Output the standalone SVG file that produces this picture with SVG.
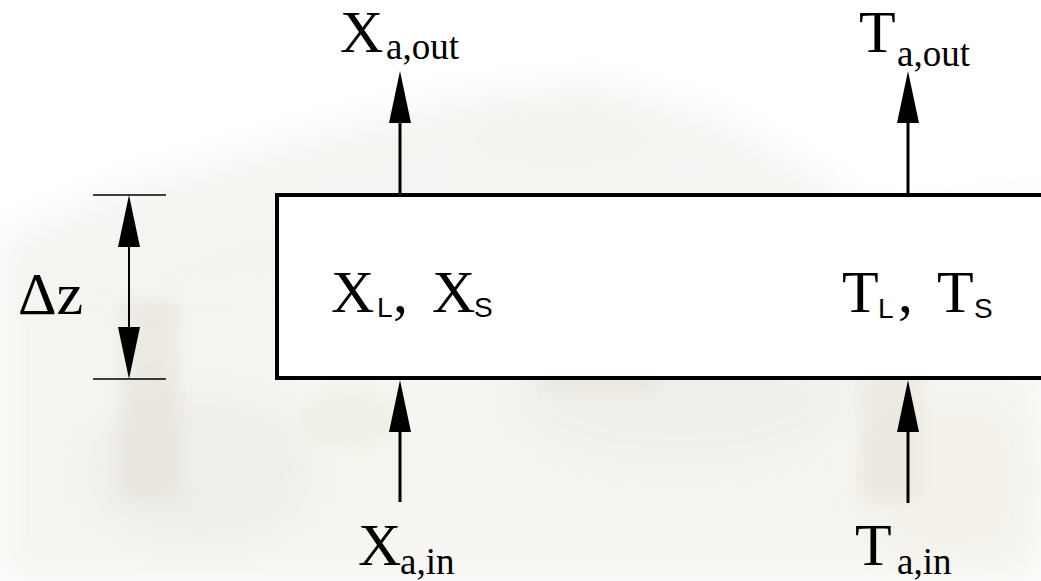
<svg xmlns="http://www.w3.org/2000/svg" width="1041" height="581" viewBox="0 0 1041 581">
  <style>
    .main { font-family: "Liberation Serif", "Times New Roman", serif; font-size: 60px; fill: #000; }
    .sub { font-size: 37px; }
    .ssub { font-family: "Liberation Sans", Arial, sans-serif; font-size: 28px; }
    .flow { stroke: #000; stroke-width: 3; fill: none; }
    .dim { stroke: #000; stroke-width: 1.5; fill: none; }
    .box { fill: #fff; stroke: #000; stroke-width: 4; }
  </style>
  <defs>
    <path id="ah" d="M0,0 L-11,52 L11,52 Z" fill="#000"/>
    <filter id="blur" x="-20%" y="-20%" width="140%" height="140%">
      <feGaussianBlur stdDeviation="18"/>
    </filter>
    <filter id="blur2" x="-20%" y="-20%" width="140%" height="140%">
      <feGaussianBlur stdDeviation="8"/>
    </filter>
  </defs>

  <g id="background">
    <rect x="0" y="0" width="1041" height="581" fill="#ffffff"/>
    <g filter="url(#blur)" opacity="0.55">
      <path d="M0,240 L120,190 L300,140 L450,100 L600,85 L720,120 L820,180 L860,210 L860,240 L0,300 Z" fill="#e4e2dc" opacity="0.7"/>
      <path d="M0,300 L300,230 L860,220 L1041,200 L1041,581 L0,581 Z" fill="#ebe7dd" opacity="0.8"/>
      <ellipse cx="200" cy="470" rx="120" ry="80" fill="#dcd8cd" opacity="0.5"/>
      <ellipse cx="680" cy="400" rx="170" ry="70" fill="#dedbd0" opacity="0.5"/>
      <ellipse cx="950" cy="480" rx="100" ry="90" fill="#e6e1d2" opacity="0.5"/>
      <ellipse cx="560" cy="130" rx="90" ry="30" fill="#e0ded8" opacity="0.4"/>
    </g>
    <g filter="url(#blur2)" opacity="0.3">
      <rect x="120" y="300" width="60" height="200" fill="#d6d2c6"/>
      <rect x="540" y="330" width="120" height="60" fill="#d3d0c4"/>
      <rect x="860" y="360" width="60" height="140" fill="#dbd6c9"/>
      <ellipse cx="350" cy="420" rx="50" ry="30" fill="#e2e5cf"/>
    </g>
  </g>

  <g id="block">
    <rect class="box" x="277" y="195" width="800" height="183"/>
    <text class="main" x="331" y="312">X<tspan class="ssub" x="377" y="317">L</tspan><tspan x="393" y="312">,</tspan><tspan x="432" y="312">X</tspan><tspan class="ssub" x="474" y="317">S</tspan></text>
    <text class="main" x="842" y="312">T<tspan class="ssub" x="878" y="318">L</tspan><tspan x="898" y="312">,</tspan><tspan x="937" y="312">T</tspan><tspan class="ssub" x="974" y="318">S</tspan></text>
  </g>

  <g id="connectors">
    <line class="flow" x1="400" y1="195" x2="400" y2="118"/>
    <use href="#ah" transform="translate(400,71)"/>
    <line class="flow" x1="908" y1="195" x2="908" y2="118"/>
    <use href="#ah" transform="translate(908,71)"/>
    <line class="flow" x1="400" y1="502" x2="400" y2="428"/>
    <use href="#ah" transform="translate(400,380)"/>
    <line class="flow" x1="908" y1="503" x2="908" y2="428"/>
    <use href="#ah" transform="translate(908,380)"/>
  </g>

  <g id="dimension">
    <line class="dim" x1="93" y1="195" x2="166" y2="195"/>
    <line class="dim" x1="93" y1="379" x2="166" y2="379"/>
    <line x1="129" y1="243" x2="129" y2="330" stroke="#000" stroke-width="2"/>
    <use href="#ah" transform="translate(129,195)"/>
    <use href="#ah" transform="translate(129,379) rotate(180)"/>
    <text class="main" x="18" y="314">Δz</text>
  </g>

  <g id="label-xout">
    <text class="main" x="340" y="52">X<tspan class="sub" x="386" y="59">a,out</tspan></text>
  </g>
  <g id="label-tout">
    <text class="main" x="859" y="52">T<tspan class="sub" x="897" y="66">a,out</tspan></text>
  </g>
  <g id="label-xin">
    <text class="main" x="358" y="565">X<tspan class="sub" x="400" y="574">a,in</tspan></text>
  </g>
  <g id="label-tin">
    <text class="main" x="855" y="565">T<tspan class="sub" x="897" y="574">a,in</tspan></text>
  </g>
</svg>
